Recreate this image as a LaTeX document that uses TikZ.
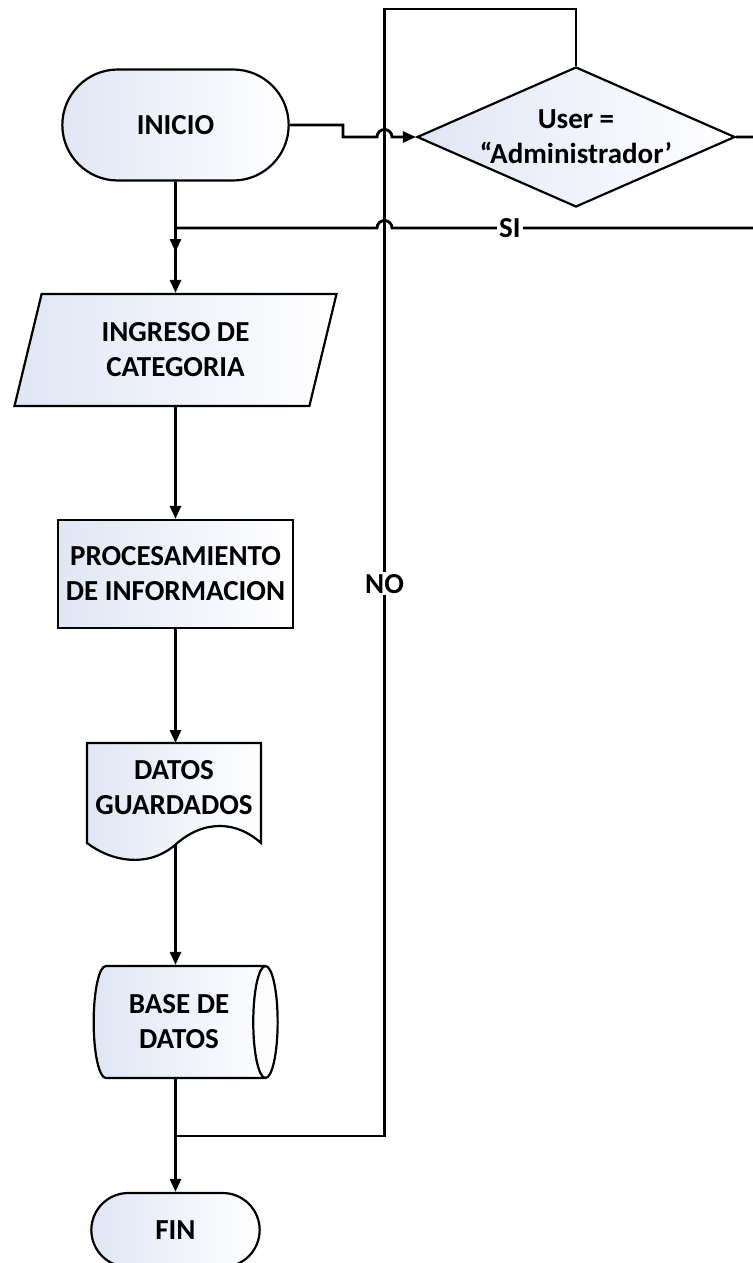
\documentclass[tikz,border=0pt]{standalone}
\usepackage{fontspec}
\setmainfont{Carlito}
\usetikzlibrary{shapes.geometric,shapes.misc,arrows.meta}
\definecolor{boxfill}{RGB}{224,230,245}

\begin{document}
\begin{tikzpicture}[x=1pt,y=-1pt,
	txt/.style={font=\bfseries\fontsize{29}{35}\selectfont, align=center},
	box/.style={txt, draw, line width=2.2pt, left color=boxfill, right color=white},
	term/.style={box, rounded rectangle},
	io/.style={box, trapezium, trapezium left angle=66, trapezium right angle=114, trapezium stretches body, minimum width=322, minimum height=112},
	proc/.style={box, rectangle, minimum width=235, minimum height=108},
	dec/.style={box, diamond, minimum width=318, minimum height=140, inner sep=0pt},
	db/.style={box, cylinder, aspect=0.45, minimum width=112, minimum height=184, inner sep=0pt},
	flow/.style={line width=2.8pt, -{Triangle[length=13pt,width=11pt]}},
	line/.style={line width=2.8pt},
	lbl/.style={txt, fill=white, inner sep=2pt}
	]
	\useasboundingbox (0,0) rectangle (752,1263);
	
	\node[term, minimum width=233, minimum height=111] (ini) at (175.5,125) {INICIO};
	\node[dec, label={[txt]center:User =\\“Administrador'}] (cond) at (576,137) {};
	\node[io] (ingreso) at (175.5,350) {INGRESO DE\\CATEGORIA};
	\node[proc] (proc) at (175.5,574) {PROCESAMIENTO\\DE INFORMACION};
	
	% documento
	\shade[left color=boxfill, right color=white, draw, line width=2.2pt]
	(87,743) -- (261,743) -- (261,843) .. controls (238,822) and (205,818) .. (175,845)
	.. controls (148,868) and (112,862) .. (87,843) -- cycle;
	\node[txt] (datos) at (174,788) {DATOS\\GUARDADOS};
	\coordinate (datosin) at (175.5,743);
	\coordinate (datosout) at (175.5,845);
	
	\node[db] (base) at (179,1022) {BASE DE\\DATOS};
	\node[term, minimum width=175, minimum height=74] (fin) at (175.5,1230) {FIN};
	
	\coordinate (siend) at (175.5,252);
	\coordinate (join) at (175.5,1136);
	
	\draw[flow] (ini.east) -- (343,125) -- (343,137) -- (377,137)
	arc[start angle=180, end angle=360, radius=7.5] -- (cond.west);
	\draw[flow] (cond.east) -- (765,137) -- (765,228) -- node[lbl, pos=0.684] {SI} (392,228)
	arc[start angle=0, end angle=-180, radius=7.5] -- (175.5,228) -- (siend);
	\draw[line] (cond.north) |- (384.5,9) -- node[lbl, pos=0.51] {NO} (384.5,1136) -- (join);
	
	\draw[flow] (ini) -- (ingreso);
	\draw[flow] (ingreso) -- (proc);
	\draw[flow] (proc) -- (datosin);
	\draw[flow] (datosout) -- (base.north -| datosout);
	\draw[flow] (base.south -| fin) -- (fin);
	
\end{tikzpicture}
\end{document}
